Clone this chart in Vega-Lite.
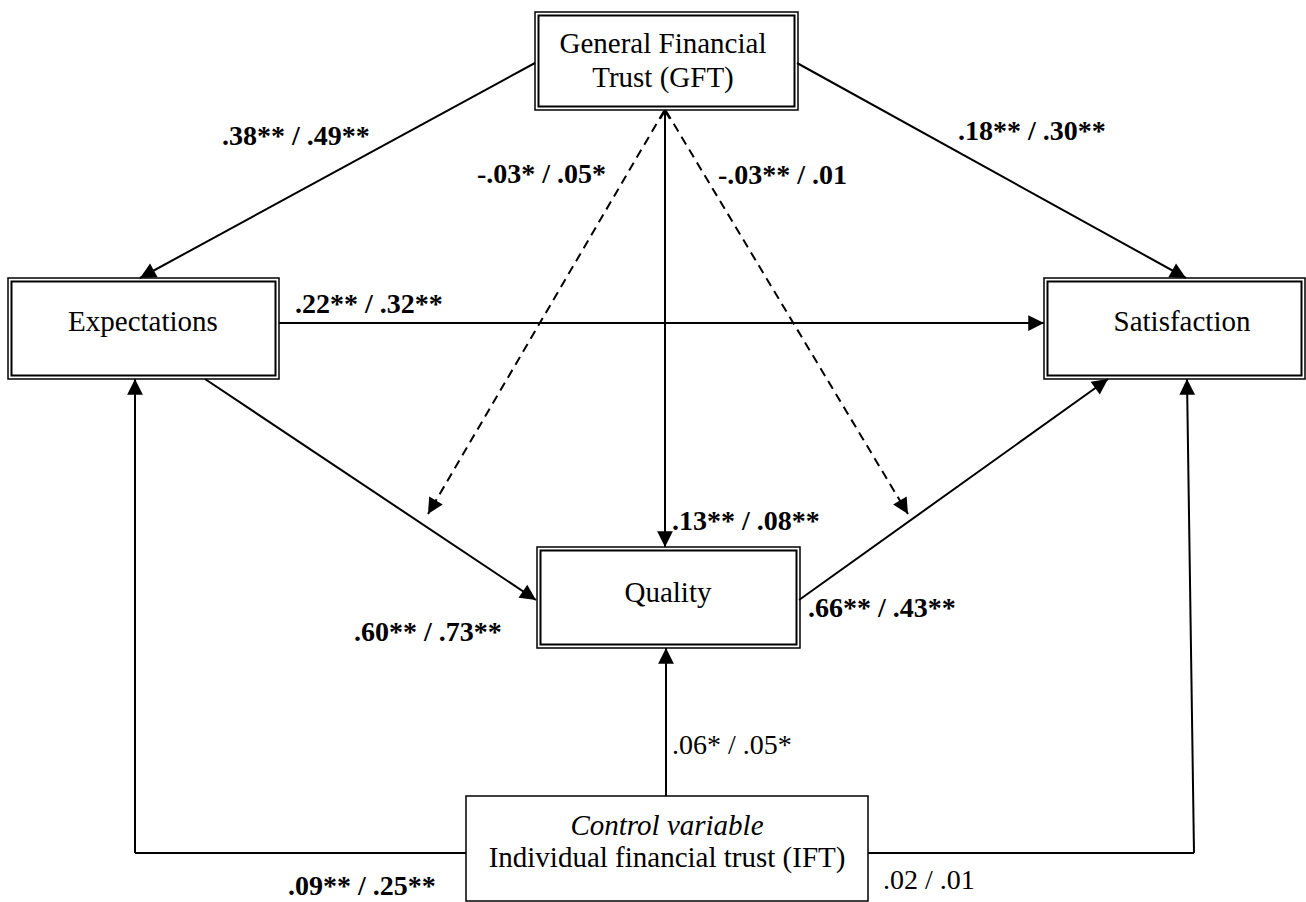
{
  "$schema": "https://vega.github.io/schema/vega-lite/v6.json",
  "width": 1306,
  "height": 902,
  "autosize": {"type": "fit", "contains": "padding"},
  "padding": 0,
  "background": "white",
  "config": {"view": {"stroke": null}},
  "datasets": {
    "boxes": [
      {"name": "GFT", "x": 535, "x2": 798, "y": 12, "y2": 110, "border": "double"},
      {"name": "Expectations", "x": 8, "x2": 279, "y": 278, "y2": 379, "border": "double"},
      {"name": "Satisfaction", "x": 1044, "x2": 1305, "y": 278, "y2": 379, "border": "double"},
      {"name": "Quality", "x": 537, "x2": 800, "y": 547, "y2": 648, "border": "double"},
      {"name": "IFT", "x": 466, "x2": 868, "y": 796, "y2": 901, "border": "single"}
    ],
    "edges": [
      {"id": "GFT-Exp", "x": 535, "y": 63, "x2": 140, "y2": 278, "style": "solid", "head": -118.6, "tail": null},
      {"id": "GFT-Sat", "x": 797, "y": 63, "x2": 1186, "y2": 278, "style": "solid", "head": 118.9, "tail": null},
      {"id": "Exp-Sat", "x": 279, "y": 323, "x2": 1044, "y2": 323, "style": "solid", "head": 90, "tail": null},
      {"id": "GFT-Qual", "x": 665, "y": 111, "x2": 665, "y2": 547, "style": "solid", "head": 180, "tail": 0},
      {"id": "GFTxExp-Qual", "x": 664, "y": 111, "x2": 428, "y2": 514, "style": "dashed", "head": -149.6, "tail": null},
      {"id": "GFTxQual-Sat", "x": 666, "y": 111, "x2": 908, "y2": 514, "style": "dashed", "head": 149.0, "tail": null},
      {"id": "Exp-Qual", "x": 205, "y": 379, "x2": 536, "y2": 600, "style": "solid", "head": 123.7, "tail": null},
      {"id": "Qual-Sat", "x": 799, "y": 600, "x2": 1108, "y2": 379, "style": "solid", "head": 54.4, "tail": null},
      {"id": "IFT-Qual", "x": 666, "y": 796, "x2": 666, "y2": 648, "style": "solid", "head": 0, "tail": null},
      {"id": "IFT-Exp-a", "x": 466, "y": 853, "x2": 135, "y2": 853, "style": "solid", "head": null, "tail": null},
      {"id": "IFT-Exp-b", "x": 135, "y": 853, "x2": 135, "y2": 379, "style": "solid", "head": 0, "tail": null},
      {"id": "IFT-Sat-a", "x": 868, "y": 853, "x2": 1194, "y2": 853, "style": "solid", "head": null, "tail": null},
      {"id": "IFT-Sat-b", "x": 1194, "y": 853, "x2": 1187, "y2": 379, "style": "solid", "head": -0.85, "tail": null}
    ],
    "nodeText": [
      {"text": "General Financial", "x": 663, "y": 53, "kind": "plain"},
      {"text": "Trust (GFT)", "x": 663, "y": 87, "kind": "plain"},
      {"text": "Expectations", "x": 143, "y": 331, "kind": "plain"},
      {"text": "Satisfaction", "x": 1182, "y": 331, "kind": "plain"},
      {"text": "Quality", "x": 668, "y": 602, "kind": "plain"},
      {"text": "Control variable", "x": 667, "y": 835, "kind": "italic"},
      {"text": "Individual financial trust (IFT)", "x": 667, "y": 867, "kind": "plain"}
    ],
    "labels": [
      {"text": ".38** / .49**", "x": 222, "y": 145, "kind": "bold"},
      {"text": "-.03* / .05*", "x": 477, "y": 183, "kind": "bold"},
      {"text": "-.03** / .01", "x": 718, "y": 184, "kind": "bold"},
      {"text": ".18** / .30**", "x": 958, "y": 140, "kind": "bold"},
      {"text": ".22** / .32**", "x": 295, "y": 313, "kind": "bold"},
      {"text": ".13** / .08**", "x": 672, "y": 530, "kind": "bold"},
      {"text": ".60** / .73**", "x": 354, "y": 641, "kind": "bold"},
      {"text": ".66** / .43**", "x": 808, "y": 617, "kind": "bold"},
      {"text": ".06* / .05*", "x": 672, "y": 754, "kind": "plain"},
      {"text": ".09** / .25**", "x": 288, "y": 895, "kind": "bold"},
      {"text": ".02 / .01", "x": 883, "y": 889, "kind": "plain"}
    ]
  },
  "layer": [
    {
      "data": {"name": "boxes"},
      "mark": {"type": "rect", "fill": "white", "stroke": "black", "strokeWidth": 1.5},
      "encoding": {
        "x": {"field": "x", "type": "quantitative", "scale": {"domain": [0, 1306], "nice": false, "zero": false}, "axis": null},
        "x2": {"field": "x2"},
        "y": {"field": "y", "type": "quantitative", "scale": {"domain": [0, 902], "nice": false, "zero": false, "reverse": true}, "axis": null},
        "y2": {"field": "y2"}
      }
    },
    {
      "data": {"name": "boxes"},
      "transform": [{"filter": "datum.border === 'double'"}],
      "mark": {"type": "rect", "fill": "white", "stroke": "black", "strokeWidth": 2, "xOffset": 3.5, "x2Offset": -3.5, "yOffset": 3.5, "y2Offset": -3.5},
      "encoding": {
        "x": {"field": "x", "type": "quantitative", "axis": null},
        "x2": {"field": "x2"},
        "y": {"field": "y", "type": "quantitative", "axis": null},
        "y2": {"field": "y2"}
      }
    },
    {
      "data": {"name": "edges"},
      "transform": [{"filter": "datum.style === 'solid'"}],
      "mark": {"type": "rule", "color": "black", "strokeWidth": 2},
      "encoding": {
        "x": {"field": "x", "type": "quantitative", "axis": null},
        "x2": {"field": "x2"},
        "y": {"field": "y", "type": "quantitative", "axis": null},
        "y2": {"field": "y2"}
      }
    },
    {
      "data": {"name": "edges"},
      "transform": [{"filter": "datum.style === 'dashed'"}],
      "mark": {"type": "rule", "color": "black", "strokeWidth": 2, "strokeDash": [9, 6]},
      "encoding": {
        "x": {"field": "x", "type": "quantitative", "axis": null},
        "x2": {"field": "x2"},
        "y": {"field": "y", "type": "quantitative", "axis": null},
        "y2": {"field": "y2"}
      }
    },
    {
      "data": {"name": "edges"},
      "transform": [{"filter": "datum.head !== null"}],
      "mark": {"type": "point", "shape": "M0,0L-0.75,1.5L0.75,1.5Z", "filled": true, "fill": "black", "strokeWidth": 0, "opacity": 1, "size": 441},
      "encoding": {
        "x": {"field": "x2", "type": "quantitative", "axis": null},
        "y": {"field": "y2", "type": "quantitative", "axis": null},
        "angle": {"field": "head", "type": "quantitative", "scale": null}
      }
    },
    {
      "data": {"name": "edges"},
      "transform": [{"filter": "datum.tail !== null"}],
      "mark": {"type": "point", "shape": "M-0.7,1.1L0,0L0.7,1.1", "filled": false, "stroke": "black", "strokeWidth": 2, "opacity": 1, "size": 196},
      "encoding": {
        "x": {"field": "x", "type": "quantitative", "axis": null},
        "y": {"field": "y", "type": "quantitative", "axis": null},
        "angle": {"field": "tail", "type": "quantitative", "scale": null}
      }
    },
    {
      "data": {"name": "nodeText"},
      "transform": [{"filter": "datum.kind === 'plain'"}],
      "mark": {"type": "text", "font": "Times New Roman, Liberation Serif, Times, serif", "fontSize": 29, "align": "center", "baseline": "alphabetic", "color": "black"},
      "encoding": {
        "x": {"field": "x", "type": "quantitative", "axis": null},
        "y": {"field": "y", "type": "quantitative", "axis": null},
        "text": {"field": "text"}
      }
    },
    {
      "data": {"name": "nodeText"},
      "transform": [{"filter": "datum.kind === 'italic'"}],
      "mark": {"type": "text", "font": "Times New Roman, Liberation Serif, Times, serif", "fontSize": 29, "fontStyle": "italic", "align": "center", "baseline": "alphabetic", "color": "black"},
      "encoding": {
        "x": {"field": "x", "type": "quantitative", "axis": null},
        "y": {"field": "y", "type": "quantitative", "axis": null},
        "text": {"field": "text"}
      }
    },
    {
      "data": {"name": "labels"},
      "transform": [{"filter": "datum.kind === 'bold'"}],
      "mark": {"type": "text", "font": "Times New Roman, Liberation Serif, Times, serif", "fontSize": 28, "fontWeight": "bold", "align": "left", "baseline": "alphabetic", "color": "black"},
      "encoding": {
        "x": {"field": "x", "type": "quantitative", "axis": null},
        "y": {"field": "y", "type": "quantitative", "axis": null},
        "text": {"field": "text"}
      }
    },
    {
      "data": {"name": "labels"},
      "transform": [{"filter": "datum.kind === 'plain'"}],
      "mark": {"type": "text", "font": "Times New Roman, Liberation Serif, Times, serif", "fontSize": 28, "align": "left", "baseline": "alphabetic", "color": "black"},
      "encoding": {
        "x": {"field": "x", "type": "quantitative", "axis": null},
        "y": {"field": "y", "type": "quantitative", "axis": null},
        "text": {"field": "text"}
      }
    }
  ]
}
